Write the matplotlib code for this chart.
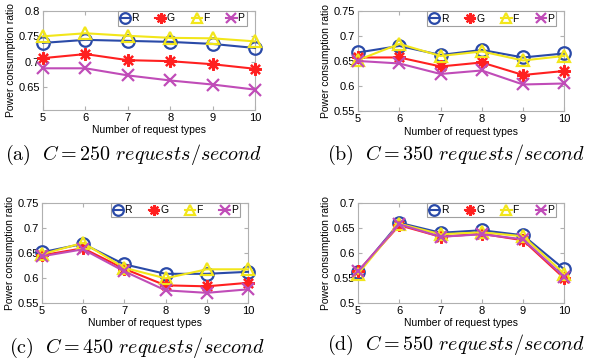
import matplotlib
matplotlib.use("Agg")
import matplotlib.pyplot as plt

plt.rcParams['font.family'] = ['Liberation Sans', 'DejaVu Sans']
plt.rcParams['mathtext.fontset'] = 'cm'

x = [5, 6, 7, 8, 9, 10]

# C = 250
r_250 = [0.737, 0.743, 0.741, 0.739, 0.735, 0.727]
g_250 = [0.707, 0.715, 0.703, 0.701, 0.695, 0.686]
f_250 = [0.750, 0.756, 0.751, 0.747, 0.746, 0.740]
p_250 = [0.687, 0.687, 0.673, 0.663, 0.655, 0.645]

# C = 350
r_350 = [0.667, 0.680, 0.662, 0.672, 0.657, 0.665]
g_350 = [0.657, 0.657, 0.639, 0.647, 0.622, 0.630]
f_350 = [0.652, 0.684, 0.660, 0.669, 0.651, 0.660]
p_350 = [0.650, 0.645, 0.624, 0.631, 0.603, 0.605]

# C = 450
r_450 = [0.651, 0.668, 0.627, 0.608, 0.608, 0.612]
g_450 = [0.645, 0.659, 0.618, 0.585, 0.583, 0.590]
f_450 = [0.647, 0.670, 0.620, 0.599, 0.617, 0.617]
p_450 = [0.643, 0.657, 0.613, 0.575, 0.570, 0.577]

# C = 550
r_550 = [0.561, 0.660, 0.640, 0.645, 0.635, 0.567]
g_550 = [0.563, 0.655, 0.632, 0.638, 0.625, 0.549]
f_550 = [0.558, 0.658, 0.637, 0.641, 0.633, 0.558]
p_550 = [0.563, 0.657, 0.632, 0.637, 0.627, 0.552]

panels = [
    ("a", "250", (r_250, g_250, f_250, p_250), (0.605, 0.8), [0.65, 0.7, 0.75, 0.8]),
    ("b", "350", (r_350, g_350, f_350, p_350), (0.55, 0.75), [0.55, 0.6, 0.65, 0.7, 0.75]),
    ("c", "450", (r_450, g_450, f_450, p_450), (0.55, 0.75), [0.55, 0.6, 0.65, 0.7, 0.75]),
    ("d", "550", (r_550, g_550, f_550, p_550), (0.5, 0.7), [0.5, 0.55, 0.6, 0.65, 0.7]),
]

names = ['R', 'G', 'F', 'P']
colors = ['#2a4aa8', '#ff2020', '#f2e61a', '#c04cb8']
markers = ['o', (8, 2, 0), '^', 'x']

# axes boxes in figure fractions: left, bottom, width, height
boxes = [
    [0.073, 0.698, 0.360, 0.272],
    [0.608, 0.695, 0.350, 0.275],
    [0.071, 0.168, 0.350, 0.275],
    [0.608, 0.168, 0.350, 0.275],
]
caption_pos = [(0.008, 0.574), (0.555, 0.574), (0.015, 0.044), (0.555, 0.052)]

fig = plt.figure(figsize=(5.89, 3.64), dpi=100)

for i, (tag, c, series, ylim, yt) in enumerate(panels):
    ax = fig.add_axes(boxes[i])
    for s, nm, col, mk in zip(series, names, colors, markers):
        ax.plot(x, s, color=col, marker=mk, markersize=9, markerfacecolor='none',
                markeredgewidth=1.6, linewidth=1.5, label=nm, clip_on=False, zorder=3)
    ax.set_xlim(5, 10)
    ax.set_ylim(*ylim)
    ax.set_xticks(x)
    ax.set_yticks(yt)
    ax.set_yticklabels([f"{v:g}" for v in yt])
    ax.tick_params(direction='in', top=True, right=True, labelsize=8,
                   color='#b0b0b0', length=3, pad=2)
    for sp in ax.spines.values():
        sp.set_color('#b0b0b0')
        sp.set_linewidth(0.8)
    ax.set_xlabel('Number of request types', fontsize=7.5, labelpad=2)
    ax.set_ylabel('Power consumption ratio', fontsize=7.5, labelpad=2)
    leg = ax.legend(loc='upper right', bbox_to_anchor=(0.96, 0.995), ncol=4,
                    fontsize=7.5, numpoints=1, handlelength=1.0, handletextpad=0.1,
                    columnspacing=1.6, borderpad=0.2, borderaxespad=0.0,
                    markerscale=0.85, fancybox=False, framealpha=1)
    leg.get_frame().set_edgecolor('#a0a0a0')
    leg.get_frame().set_linewidth(0.8)
    fig.text(caption_pos[i][0], caption_pos[i][1],
             r"$\mathrm{(" + tag + r")}\ \ C = " + c + r"\ requests/second$",
             fontsize=14.5, va='center')

fig.savefig('out.png', dpi=100)
